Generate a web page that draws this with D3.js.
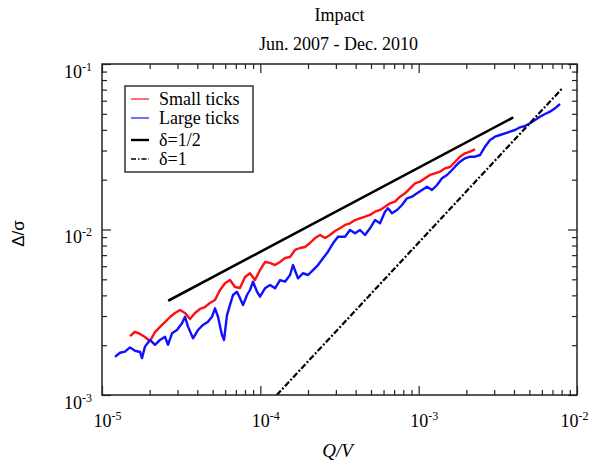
<!DOCTYPE html>
<html>
<head>
<meta charset="utf-8">
<script src="https://cdn.jsdelivr.net/npm/d3@7"></script>
<style>
  body { margin: 0; background: #fff; }
  svg { display: block; }
</style>
</head>
<body>
<svg id="chart" width="590" height="460"></svg>
<script>
// Small ticks (red)
const smallX = [1.502e-5, 1.616e-5, 1.738e-5, 1.868e-5, 2.010e-5, 2.161e-5, 2.324e-5, 2.500e-5, 2.688e-5, 2.891e-5,
    3.109e-5, 3.344e-5, 3.596e-5, 3.867e-5, 4.159e-5, 4.473e-5, 4.810e-5, 5.173e-5, 5.563e-5, 5.983e-5,
    6.434e-5, 6.918e-5, 7.440e-5, 8.001e-5, 8.605e-5, 9.254e-5, 9.952e-5, 1.070e-4, 1.151e-4, 1.238e-4,
    1.331e-4, 1.432e-4, 1.540e-4, 1.656e-4, 1.781e-4, 1.915e-4, 2.060e-4, 2.215e-4, 2.382e-4, 2.562e-4,
    2.754e-4, 2.962e-4, 3.186e-4, 3.426e-4, 3.684e-4, 3.962e-4, 4.261e-4, 4.582e-4, 4.928e-4, 5.299e-4,
    5.699e-4, 6.129e-4, 6.592e-4, 7.088e-4, 7.623e-4, 8.198e-4, 8.817e-4, 9.482e-4, 1.020e-3, 1.096e-3,
    1.179e-3, 1.268e-3, 1.364e-3, 1.467e-3, 1.577e-3, 1.696e-3, 1.824e-3, 1.962e-3, 2.110e-3, 2.269e-3];
const smallY = [2.27e-3, 2.41e-3, 2.34e-3, 2.24e-3, 2.12e-3, 2.40e-3, 2.58e-3, 2.76e-3, 2.96e-3, 3.13e-3,
    3.26e-3, 3.13e-3, 2.88e-3, 3.13e-3, 3.31e-3, 3.40e-3, 3.60e-3, 3.75e-3, 4.31e-3, 4.73e-3,
    4.95e-3, 4.49e-3, 4.43e-3, 5.16e-3, 5.44e-3, 4.95e-3, 5.69e-3, 6.36e-3, 6.28e-3, 6.10e-3,
    6.36e-3, 6.73e-3, 6.82e-3, 7.52e-3, 7.73e-3, 7.84e-3, 8.29e-3, 8.88e-3, 9.26e-3, 8.88e-3,
    9.26e-3, 9.79e-3, 1.017e-2, 1.065e-2, 1.090e-2, 1.141e-2, 1.169e-2, 1.195e-2, 1.224e-2, 1.281e-2,
    1.312e-2, 1.373e-2, 1.440e-2, 1.472e-2, 1.579e-2, 1.655e-2, 1.774e-2, 1.902e-2, 1.944e-2, 2.038e-2,
    2.135e-2, 2.186e-2, 2.235e-2, 2.343e-2, 2.386e-2, 2.558e-2, 2.754e-2, 2.887e-2, 2.952e-2, 3.052e-2];

// Large ticks (blue)
const largeX = [1.208e-5, 1.299e-5, 1.397e-5, 1.502e-5, 1.616e-5, 1.738e-5, 1.789e-5, 1.868e-5, 2.010e-5, 2.161e-5,
    2.324e-5, 2.500e-5, 2.611e-5, 2.768e-5, 2.976e-5, 3.201e-5, 3.344e-5, 3.493e-5, 3.756e-5, 4.039e-5,
    4.344e-5, 4.672e-5, 4.951e-5, 5.173e-5, 5.403e-5, 5.727e-5, 5.896e-5, 6.160e-5, 6.434e-5, 6.721e-5,
    7.122e-5, 7.440e-5, 7.773e-5, 8.238e-5, 8.605e-5, 8.990e-5, 9.528e-5, 9.952e-5, 1.070e-4, 1.151e-4,
    1.238e-4, 1.331e-4, 1.432e-4, 1.540e-4, 1.608e-4, 1.730e-4, 1.860e-4, 2.001e-4, 2.151e-4, 2.313e-4,
    2.488e-4, 2.676e-4, 2.877e-4, 3.094e-4, 3.426e-4, 3.684e-4, 3.962e-4, 4.261e-4, 4.582e-4, 4.928e-4,
    5.299e-4, 5.699e-4, 6.129e-4, 6.401e-4, 6.785e-4, 7.300e-4, 7.849e-4, 8.442e-4, 9.078e-4, 9.761e-4,
    1.050e-3, 1.129e-3, 1.214e-3, 1.306e-3, 1.404e-3, 1.510e-3, 1.624e-3, 1.696e-3, 1.824e-3, 1.962e-3,
    2.110e-3, 2.269e-3, 2.440e-3, 2.624e-3, 2.822e-3, 3.035e-3, 3.264e-3, 3.510e-3, 3.775e-3, 4.059e-3,
    4.365e-3, 4.695e-3, 5.049e-3, 5.430e-3, 5.839e-3, 6.280e-3, 6.753e-3, 7.263e-3, 7.811e-3];
const largeY = [1.70e-3, 1.80e-3, 1.83e-3, 1.94e-3, 1.85e-3, 1.82e-3, 1.67e-3, 1.96e-3, 2.15e-3, 2.01e-3,
    2.15e-3, 2.25e-3, 2.01e-3, 2.36e-3, 2.47e-3, 2.71e-3, 2.97e-3, 2.59e-3, 2.20e-3, 2.47e-3,
    2.65e-3, 2.77e-3, 2.97e-3, 3.34e-3, 2.97e-3, 2.30e-3, 2.15e-3, 3.04e-3, 3.50e-3, 4.02e-3,
    4.21e-3, 3.84e-3, 3.50e-3, 4.02e-3, 4.31e-3, 4.84e-3, 4.21e-3, 3.93e-3, 4.41e-3, 4.62e-3,
    4.41e-3, 4.95e-3, 4.84e-3, 5.31e-3, 6.10e-3, 5.07e-3, 5.44e-3, 5.31e-3, 5.69e-3, 6.10e-3,
    6.70e-3, 7.34e-3, 8.25e-3, 9.05e-3, 9.05e-3, 9.93e-3, 9.49e-3, 9.93e-3, 9.26e-3, 1.017e-2,
    1.141e-2, 1.090e-2, 1.281e-2, 1.343e-2, 1.253e-2, 1.312e-2, 1.406e-2, 1.544e-2, 1.579e-2, 1.655e-2,
    1.733e-2, 1.814e-2, 1.733e-2, 1.857e-2, 2.038e-2, 2.135e-2, 2.288e-2, 2.396e-2, 2.569e-2, 2.693e-2,
    2.754e-2, 2.754e-2, 2.819e-2, 3.165e-2, 3.474e-2, 3.637e-2, 3.724e-2, 3.813e-2, 3.898e-2, 3.992e-2,
    4.145e-2, 4.221e-2, 4.383e-2, 4.586e-2, 4.804e-2, 4.988e-2, 5.150e-2, 5.399e-2, 5.733e-2];

// reference slopes, end points only
const halfX = [2.62e-5, 3.96e-3];
const halfY = [3.71e-3, 4.76e-2];
const oneX = [1.27e-4, 8.08e-3];
const oneY = [1.0e-3, 7.13e-2];

const xMajor = [1e-5, 1e-4, 1e-3, 1e-2];
const xExp = ["-5", "-4", "-3", "-2"];
const yMajor = [1e-3, 1e-2, 1e-1];
const yExp = ["-3", "-2", "-1"];

const legendLabels = ["Small ticks", "Large ticks", "\u03b4=1/2", "\u03b4=1"];

const serif = "'Liberation Serif', 'Times New Roman', serif";

const margin = { top: 64, right: 13, bottom: 65, left: 102 };
const W = 590, H = 460;
const w = W - margin.left - margin.right,
      h = H - margin.top - margin.bottom;

const svg = d3.select("#chart");

svg.append("rect").attr("width", W).attr("height", H).attr("fill", "#fff");

const g = svg.append("g")
    .attr("transform", "translate(" + margin.left + "," + margin.top + ")");

const x = d3.scaleLog().domain([1e-5, 1e-2]).range([0, w]);
const y = d3.scaleLog().domain([1e-3, 1e-1]).range([h, 0]);

const xMinor = x.ticks().filter(t => !xMajor.some(m => Math.abs(m - t) / m < 1e-6));
const yMinor = y.ticks().filter(t => !yMajor.some(m => Math.abs(m - t) / m < 1e-6));

// titles
svg.append("text")
    .attr("x", margin.left + w / 2).attr("y", 21)
    .attr("text-anchor", "middle")
    .style("font-family", serif).style("font-size", "18px")
    .text("Impact");
svg.append("text")
    .attr("x", margin.left + w / 2 - 1).attr("y", 50)
    .attr("text-anchor", "middle")
    .style("font-family", serif).style("font-size", "18px")
    .text("Jun. 2007 - Dec. 2010");

// series
g.append("defs").append("clipPath").attr("id", "clip")
    .append("rect").attr("width", w).attr("height", h);

const line = d3.line().x(d => x(d[0])).y(d => y(d[1]));

const plot = g.append("g").attr("clip-path", "url(#clip)");

plot.append("path")
    .datum(d3.zip(smallX, smallY))
    .attr("d", line)
    .attr("fill", "none")
    .attr("stroke", "#ff1010")
    .attr("stroke-width", 2.4)
    .attr("stroke-linejoin", "round");

plot.append("path")
    .datum(d3.zip(largeX, largeY))
    .attr("d", line)
    .attr("fill", "none")
    .attr("stroke", "#1010ff")
    .attr("stroke-width", 2.4)
    .attr("stroke-linejoin", "round");

plot.append("path")
    .datum(d3.zip(halfX, halfY))
    .attr("d", line)
    .attr("fill", "none")
    .attr("stroke", "#000")
    .attr("stroke-width", 2.6);

plot.append("path")
    .datum(d3.zip(oneX, oneY))
    .attr("d", line)
    .attr("fill", "none")
    .attr("stroke", "#000")
    .attr("stroke-width", 2.2)
    .attr("stroke-dasharray", "6,2,2,2");

// axes, ticks pointing inwards on all four sides
function styleAxis(sel) {
    sel.select(".domain").remove();
    sel.selectAll(".tick line").attr("stroke", "#222").attr("stroke-width", 1.2);
}

g.append("g").attr("transform", "translate(0," + h + ")")
    .call(d3.axisBottom(x).tickValues(xMinor).tickSizeInner(-5).tickSizeOuter(0).tickFormat(""))
    .call(styleAxis);
g.append("g")
    .call(d3.axisTop(x).tickValues(xMinor).tickSizeInner(-5).tickSizeOuter(0).tickFormat(""))
    .call(styleAxis);
g.append("g")
    .call(d3.axisLeft(y).tickValues(yMinor).tickSizeInner(-5).tickSizeOuter(0).tickFormat(""))
    .call(styleAxis);
g.append("g").attr("transform", "translate(" + w + ",0)")
    .call(d3.axisRight(y).tickValues(yMinor).tickSizeInner(-5).tickSizeOuter(0).tickFormat(""))
    .call(styleAxis);

g.append("g")
    .call(d3.axisTop(x).tickValues(xMajor).tickSizeInner(-9).tickSizeOuter(0).tickFormat(""))
    .call(styleAxis);
g.append("g").attr("transform", "translate(" + w + ",0)")
    .call(d3.axisRight(y).tickValues(yMajor).tickSizeInner(-9).tickSizeOuter(0).tickFormat(""))
    .call(styleAxis);

const xAxis = g.append("g").attr("transform", "translate(0," + h + ")")
    .call(d3.axisBottom(x).tickValues(xMajor).tickSizeInner(-9).tickSizeOuter(0)
        .tickFormat((d, i) => xExp[i]))
    .call(styleAxis);

xAxis.selectAll(".tick text").each(function (d) {
    const t = d3.select(this);
    const e = t.text();
    t.text(null)
        .attr("y", 32).attr("dy", null).attr("x", 5)
        .attr("fill", "#000")
        .style("font-family", serif).style("font-size", "18px");
    t.append("tspan").text("10");
    t.append("tspan").attr("dy", -7).style("font-size", "12px").text(e);
    // keep the last label inside the page
    const half = this.getComputedTextLength() / 2;
    const over = margin.left + x(d) + 5 + half - (W - 2);
    if (over > 0) t.attr("x", 5 - over);
});

const yAxis = g.append("g")
    .call(d3.axisLeft(y).tickValues(yMajor).tickSizeInner(-9).tickSizeOuter(0)
        .tickFormat((d, i) => yExp[i]))
    .call(styleAxis);

yAxis.selectAll(".tick text").each(function () {
    const t = d3.select(this);
    const e = t.text();
    t.text(null)
        .attr("x", -10).attr("y", 13).attr("dy", null)
        .attr("text-anchor", "end")
        .attr("fill", "#000")
        .style("font-family", serif).style("font-size", "18px");
    t.append("tspan").text("10");
    t.append("tspan").attr("dy", -7).style("font-size", "12px").text(e);
});

// frame
g.append("rect")
    .attr("width", w).attr("height", h)
    .attr("fill", "none")
    .attr("stroke", "#222")
    .attr("stroke-width", 1.5);

// axis labels
svg.append("text")
    .attr("x", margin.left + w / 2 - 2).attr("y", 457)
    .attr("text-anchor", "middle")
    .style("font-family", serif).style("font-size", "19px").style("font-style", "italic")
    .text("Q/V");

svg.append("text")
    .attr("transform", "translate(24," + (margin.top + h / 2 + 4) + ") rotate(-90)")
    .attr("text-anchor", "middle")
    .style("font-family", "'Liberation Sans', Arial, sans-serif").style("font-size", "17px")
    .text("\u0394/\u03c3");

// legend
const legendStyles = [
    { stroke: "#ff1010", width: 1.2, dash: null },
    { stroke: "#1010ff", width: 1.2, dash: null },
    { stroke: "#000", width: 2.4, dash: null },
    { stroke: "#000", width: 1.5, dash: "5,2,1.5,2" }
];
const legendRows = [99, 118, 140, 159];

const legend = svg.append("g");
legend.append("rect")
    .attr("x", 125).attr("y", 86)
    .attr("width", 128).attr("height", 86)
    .attr("fill", "#fff")
    .attr("stroke", "#333")
    .attr("stroke-width", 1.5);

legendLabels.forEach((lab, i) => {
    legend.append("line")
        .attr("x1", 131).attr("x2", 149)
        .attr("y1", legendRows[i]).attr("y2", legendRows[i])
        .attr("stroke", legendStyles[i].stroke)
        .attr("stroke-width", legendStyles[i].width)
        .attr("stroke-dasharray", legendStyles[i].dash);
    legend.append("text")
        .attr("x", 159).attr("y", legendRows[i] + 6)
        .style("font-family", serif).style("font-size", "18px")
        .text(lab);
});
</script>
</body>
</html>
